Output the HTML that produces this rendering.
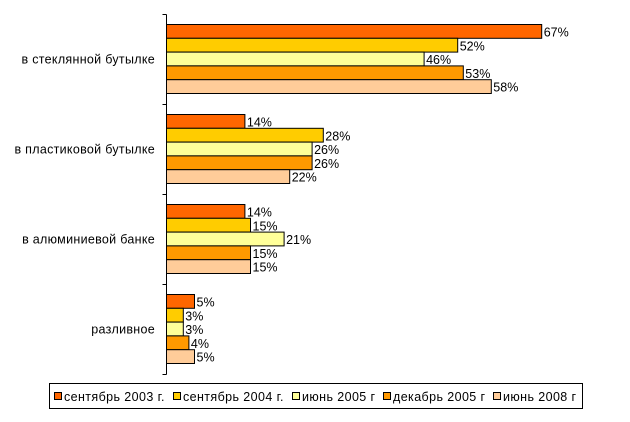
<!DOCTYPE html>
<html><head><meta charset="utf-8"><style>
body{margin:0;background:#fff;width:630px;height:417px;overflow:hidden;font-family:"Liberation Sans",sans-serif}
svg text{font-family:"Liberation Sans",sans-serif;font-size:12.5px;fill:#000}
</style></head><body>
<svg id="chart" width="630" height="417"></svg>
<script>
const categories=["в стеклянной бутылке","в пластиковой бутылке","в алюминиевой банке","разливное"];
const seriesNames=["сентябрь 2003 г.","сентябрь 2004 г.","июнь 2005 г","декабрь 2005 г","июнь 2008 г"];
const s2003=[67,14,14,5];
const s2004=[52,28,15,3];
const s2005j=[46,26,21,3];
const s2005d=[53,26,15,4];
const s2008=[58,22,15,5];
const series=[s2003,s2004,s2005j,s2005d,s2008];
const colors=["#FF6600","#FFCC00","#FFFF99","#FF9900","#FFCC99"];
const NS="http://www.w3.org/2000/svg";
const svg=document.getElementById('chart');
const x0=166.5,top0=14.5,band=90,barH=13.8,pxPer=5.6;
const xs=v=>x0+v*pxPer;
function mk(t,a,p){const e=document.createElementNS(NS,t);for(const k in a)e.setAttribute(k,a[k]);(p||svg).appendChild(e);return e;}
categories.forEach((c,i)=>{
  const g=mk('g',{});
  
  
  const by=top0+i*band+10;
  series.forEach((s,j)=>{
    const r=mk('rect',{x:x0,y:by+j*barH,width:xs(s[i])-x0,height:barH,fill:colors[j],stroke:'#000','stroke-width':1},g);
    
    
    const t=mk('text',{x:xs(s[i])+2,y:by+j*barH+12},g);
    
    
    t.textContent=s[i]+'%';
  });
  const l=mk('text',{x:155,y:top0+i*band+band/2+4,'text-anchor':'end','font-size':'13.3','letter-spacing':'0.3'});
  
  
  l.textContent=c;
});
const ax=mk('line',{x1:x0,y1:top0,x2:x0,y2:top0+4*band,stroke:'#000'});


for(let i=0;i<=4;i++){
  const tk=mk('line',{x1:x0-4,y1:top0+i*band,x2:x0,y2:top0+i*band,stroke:'#000'});
  
  
}
const lg=mk('g',{});


mk('rect',{x:49.5,y:383.5,width:533,height:25,fill:'#fff',stroke:'#000'},lg);
const lx=[54,173,292,383,493];
seriesNames.forEach((n,j)=>{
  const e=mk('g',{},lg);
  
  
  mk('rect',{x:lx[j]+0.5,y:392.5,width:7,height:7,fill:colors[j],stroke:'#000'},e);
  const t=mk('text',{x:lx[j]+10,y:401,'font-size':'13','letter-spacing':'0.4'},e);
  t.textContent=n;
});
</script>
</body></html>
